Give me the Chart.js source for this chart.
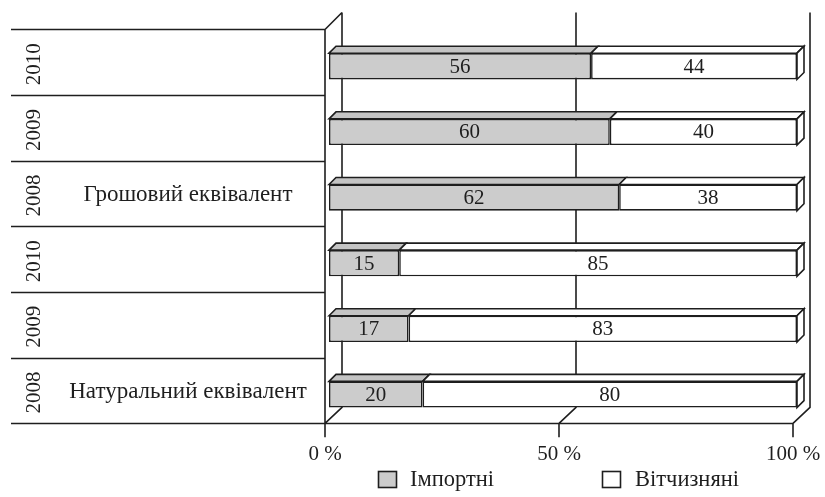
<!DOCTYPE html>
<html>
<head>
<meta charset="utf-8">
<script src="https://cdn.jsdelivr.net/npm/chart.js@4"></script>
<style>
  html, body { margin: 0; padding: 0; background: #fff; }
  #wrap { width: 825px; height: 497px; }
</style>
</head>
<body>
<div id="wrap"><canvas id="c" width="825" height="497"></canvas></div>
<script>
// Rows from top to bottom: money equivalent (2010, 2009, 2008), then physical equivalent
const years = ['2010', '2009', '2008', '2010', '2009', '2008'];
const groupLabels = ['Грошовий еквівалент', 'Натуральний еквівалент'];
const groupRowIndex = [2, 5];              // row that carries the group caption
const seriesNames = ['Імпортні', 'Вітчизняні'];
const imported = [56, 60, 62, 15, 17, 20];
const domestic = [44, 40, 38, 85, 83, 80];
const tickValues = [0, 50, 100];
const tickLabels = ['0 %', '50 %', '100 %'];

const FAMILY = '"Liberation Serif", "Times New Roman", serif';
const FONT = '21px ' + FAMILY;
const FONT_GROUP = '23px ' + FAMILY;
const FONT_LEGEND = '22.5px ' + FAMILY;
const INK = '#1e1e1e';
const GRAY = '#cccccc';
const GRAY_TOP = '#c4c4c4';
const LW = 1.6;

// Perspective offsets of the pseudo-3D box
const WALL_DX = 17, WALL_DY = -16;     // depth of the back wall
const FRONT_DX = -4, FRONT_DY = -4;    // front plane relative to the bar plane (x), row lines (y)
const BAR_DX = 7, BAR_DY = -7;         // depth of each bar

const boxPlugin = {
  id: 'box3d',
  beforeDatasetsDraw(chart) {
    const ctx = chart.ctx;
    const xs = chart.scales.x, ys = chart.scales.y;
    const n = years.length;
    const step = (ys.getPixelForValue(n - 1) - ys.getPixelForValue(0)) / (n - 1);
    const rowTop = i => ys.getPixelForValue(i) - step / 2 + FRONT_DY;
    const floorY = rowTop(n);
    const topY = rowTop(0);
    const fx = v => xs.getPixelForValue(v) + FRONT_DX;
    const bx = v => fx(v) + WALL_DX;

    ctx.save();
    ctx.strokeStyle = INK;
    ctx.lineWidth = LW;
    ctx.lineCap = 'butt';

    // table rows on the left
    ctx.beginPath();
    for (let i = 0; i <= n; i++) {
      const y = Math.round(rowTop(i)) + 0.5;
      ctx.moveTo(11, y);
      ctx.lineTo(fx(0), y);
    }
    // floor front edge
    const fy = Math.round(floorY) + 0.5;
    ctx.moveTo(fx(0), fy);
    ctx.lineTo(fx(100), fy);
    // left wall front edge with the first tick
    ctx.moveTo(fx(0), topY);
    ctx.lineTo(fx(0), floorY + 14);
    // top diagonal of the left wall
    ctx.moveTo(fx(0), topY);
    ctx.lineTo(bx(0), topY + WALL_DY - 1);
    // back gridlines, floor diagonals and ticks
    tickValues.forEach(v => {
      ctx.moveTo(bx(v), topY + WALL_DY - 1);
      ctx.lineTo(bx(v), floorY + WALL_DY);
      ctx.lineTo(fx(v), floorY);
      ctx.lineTo(fx(v), floorY + 14);
    });
    ctx.stroke();

    // text
    ctx.fillStyle = INK;
    ctx.font = FONT;
    ctx.textAlign = 'center';
    ctx.textBaseline = 'middle';
    years.forEach((yr, i) => {
      ctx.save();
      ctx.translate(33, ys.getPixelForValue(i) - 2);
      ctx.rotate(-Math.PI / 2);
      ctx.fillText(yr, 0, 1);
      ctx.restore();
    });
    tickValues.forEach((v, k) => {
      ctx.fillText(tickLabels[k], fx(v), floorY + 31);
    });
    ctx.font = FONT_GROUP;
    groupLabels.forEach((g, k) => {
      ctx.fillText(g, 188, ys.getPixelForValue(groupRowIndex[k]) - 3);
    });

    // legend
    const legendY = 479;
    const items = [{ box: 378, text: 410 }, { box: 602, text: 635 }];
    ctx.font = FONT_LEGEND;
    chart.data.datasets.forEach((ds, k) => {
      ctx.fillStyle = ds.backgroundColor;
      ctx.fillRect(items[k].box, legendY - 8, 18, 16);
      ctx.strokeRect(items[k].box + 0.5, legendY - 8 + 0.5, 18, 16);
      ctx.fillStyle = INK;
      ctx.textAlign = 'left';
      ctx.fillText(ds.label, items[k].text, legendY + 1);
    });
    ctx.restore();
  },
  afterDatasetsDraw(chart) {
    const ctx = chart.ctx;
    const last = chart.data.datasets.length - 1;
    ctx.save();
    ctx.strokeStyle = INK;
    ctx.lineWidth = LW;
    ctx.lineJoin = 'miter';
    chart.data.datasets.forEach((ds, di) => {
      const meta = chart.getDatasetMeta(di);
      meta.data.forEach((bar, i) => {
        const p = bar.getProps(['x', 'y', 'base', 'height'], true);
        const left = Math.min(p.x, p.base), right = Math.max(p.x, p.base);
        const top = p.y - p.height / 2, bottom = p.y + p.height / 2;
        // top face
        ctx.beginPath();
        ctx.moveTo(left, top);
        ctx.lineTo(left + BAR_DX, top + BAR_DY);
        ctx.lineTo(right + BAR_DX, top + BAR_DY);
        ctx.lineTo(right, top);
        ctx.closePath();
        ctx.fillStyle = di === 0 ? GRAY_TOP : '#ffffff';
        ctx.fill();
        ctx.stroke();
        // right end face
        if (di === last) {
          ctx.beginPath();
          ctx.moveTo(right, top);
          ctx.lineTo(right + BAR_DX, top + BAR_DY);
          ctx.lineTo(right + BAR_DX, bottom + BAR_DY);
          ctx.lineTo(right, bottom);
          ctx.closePath();
          ctx.fillStyle = '#ffffff';
          ctx.fill();
          ctx.stroke();
        }
        // value label
        ctx.fillStyle = INK;
        ctx.font = FONT;
        ctx.textAlign = 'center';
        ctx.textBaseline = 'middle';
        ctx.fillText(String(ds.data[i]), (left + right) / 2, p.y + 1);
      });
    });
    ctx.restore();
  }
};

new Chart(document.getElementById('c'), {
  type: 'bar',
  data: {
    labels: years,
    datasets: [
      { label: seriesNames[0], data: imported, backgroundColor: GRAY, borderColor: INK, borderWidth: LW, borderSkipped: false },
      { label: seriesNames[1], data: domestic, backgroundColor: '#ffffff', borderColor: INK, borderWidth: LW, borderSkipped: false }
    ]
  },
  options: {
    indexAxis: 'y',
    responsive: false,
    animation: false,
    devicePixelRatio: 1,
    categoryPercentage: 1,
    barPercentage: 0.4,
    layout: { padding: { left: 329, right: 28, top: 33.5, bottom: 69.7 } },
    scales: {
      x: { stacked: true, min: 0, max: 100, display: false },
      y: { stacked: true, display: false }
    },
    plugins: { legend: { display: false }, tooltip: { enabled: false } }
  },
  plugins: [boxPlugin]
});
</script>
</body>
</html>
